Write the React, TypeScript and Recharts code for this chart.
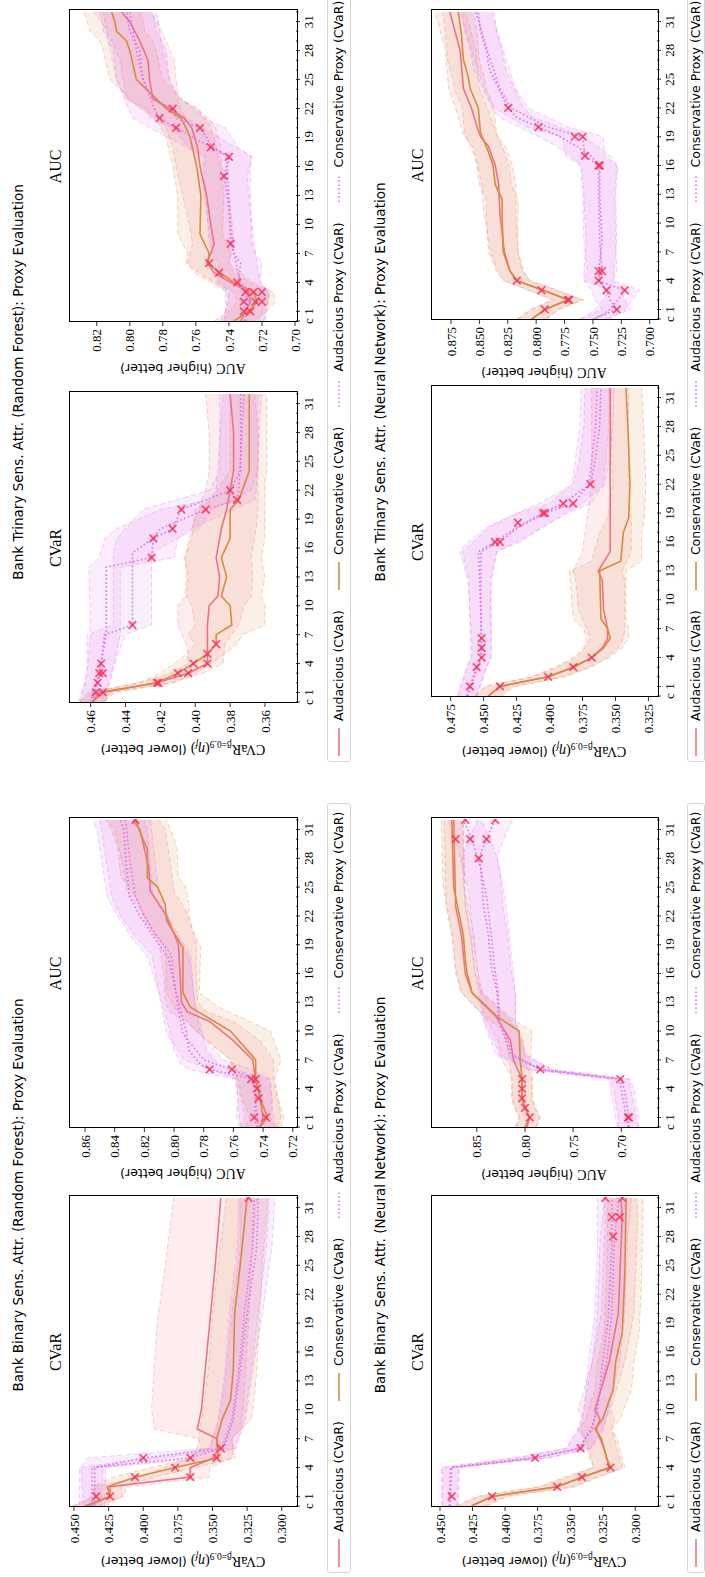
import React from 'react';
import { Area, ComposedChart, Line, Scatter, XAxis, YAxis } from 'recharts';

// [x, mean, lower, upper]
type Pt = [number, number, number, number];
type Mk = [number, number];

const seriesNames = [
  'Audacious (CVaR)',
  'Conservative (CVaR)',
  'Audacious Proxy (CVaR)',
  'Conservative Proxy (CVaR)',
];
const seriesColors = ['#ef7282', '#d88a3f', '#c87cf3', '#ef6fe6'];
const MARK = '#ff2f55';

const xTicks = Array.from({ length: 33 }, (_, i) => i);
const X_DOMAIN: [number, number] = [-0.1, 32.1];

const cvarBinTicks = [0.3, 0.325, 0.35, 0.375, 0.4, 0.425, 0.45];
const aucRfBinTicks = [0.72, 0.74, 0.76, 0.78, 0.8, 0.82, 0.84, 0.86];
const cvarRfTriTicks = [0.36, 0.38, 0.4, 0.42, 0.44, 0.46];
const aucRfTriTicks = [0.7, 0.72, 0.74, 0.76, 0.78, 0.8, 0.82];
const aucNnBinTicks = [0.7, 0.75, 0.8, 0.85];
const cvarNnTriTicks = [0.325, 0.35, 0.375, 0.4, 0.425, 0.45, 0.475];
const aucNnTriTicks = [0.7, 0.725, 0.75, 0.775, 0.8, 0.825, 0.85, 0.875];

// ---- Bank Binary, Random Forest, CVaR
const rfBinCvarAud: Pt[] = [
  [0, 0.44, 0.428, 0.45], [1, 0.424, 0.414, 0.436], [2, 0.424, 0.412, 0.436], [3, 0.366, 0.352, 0.402],
  [4, 0.366, 0.352, 0.385], [5, 0.349, 0.336, 0.366], [6, 0.346, 0.335, 0.358], [7, 0.347, 0.336, 0.36],
  [8, 0.361, 0.33, 0.392], [10, 0.358, 0.328, 0.394], [19, 0.352, 0.324, 0.39], [25, 0.348, 0.322, 0.384],
  [32, 0.344, 0.318, 0.378],
];
const rfBinCvarCons: Pt[] = [
  [0, 0.442, 0.432, 0.452], [1, 0.424, 0.415, 0.434], [2, 0.426, 0.416, 0.436], [3, 0.406, 0.392, 0.422],
  [4, 0.377, 0.362, 0.394], [5, 0.346, 0.334, 0.362], [7, 0.347, 0.336, 0.36], [9, 0.343, 0.322, 0.358],
  [11, 0.337, 0.32, 0.356], [14, 0.335, 0.318, 0.353], [20, 0.334, 0.316, 0.35], [25, 0.33, 0.314, 0.346],
  [32, 0.325, 0.31, 0.34],
];
const rfBinCvarAudProxy: Pt[] = [
  [0, 0.435, 0.428, 0.443], [4, 0.435, 0.427, 0.445], [5, 0.4, 0.386, 0.44], [6, 0.342, 0.333, 0.352],
  [9, 0.335, 0.326, 0.345], [14, 0.33, 0.321, 0.34], [20, 0.325, 0.314, 0.336], [27, 0.318, 0.307, 0.33],
  [32, 0.317, 0.305, 0.33],
];
const rfBinCvarConsProxy: Pt[] = [
  [0, 0.437, 0.43, 0.446], [4, 0.437, 0.429, 0.446], [5, 0.366, 0.352, 0.395], [6, 0.343, 0.334, 0.352],
  [9, 0.336, 0.327, 0.346], [14, 0.331, 0.322, 0.341], [20, 0.327, 0.317, 0.338], [27, 0.321, 0.311, 0.332],
  [32, 0.32, 0.309, 0.331],
];
const rfBinCvarMarks: Mk[] = [
  [1, 0.434], [1, 0.424], [3, 0.406], [3, 0.366], [4, 0.377], [5, 0.4], [5, 0.366], [5, 0.347], [6, 0.344], [32, 0.324],
];

// ---- Bank Binary, Random Forest, AUC
const rfBinAucAud: Pt[] = [
  [0, 0.742, 0.73, 0.755], [1, 0.74, 0.728, 0.752], [3, 0.742, 0.73, 0.755], [5, 0.745, 0.733, 0.758],
  [7, 0.747, 0.733, 0.762], [9, 0.76, 0.742, 0.778], [11, 0.776, 0.76, 0.792], [12, 0.791, 0.778, 0.803],
  [13, 0.795, 0.784, 0.806], [16, 0.796, 0.785, 0.807], [19, 0.797, 0.785, 0.81], [22, 0.805, 0.79, 0.82],
  [24.6, 0.816, 0.8, 0.832], [27, 0.817, 0.802, 0.834], [29, 0.82, 0.804, 0.837], [31, 0.823, 0.806, 0.84],
  [32, 0.828, 0.81, 0.846],
];
const rfBinAucCons: Pt[] = [
  [0, 0.742, 0.728, 0.752], [1, 0.737, 0.726, 0.749], [3, 0.742, 0.73, 0.754], [5, 0.745, 0.732, 0.757],
  [7, 0.745, 0.728, 0.762], [10, 0.762, 0.735, 0.785], [12.5, 0.789, 0.77, 0.8], [14, 0.794, 0.783, 0.805],
  [18.7, 0.794, 0.782, 0.806], [21.5, 0.805, 0.79, 0.82], [23.2, 0.806, 0.79, 0.823], [25, 0.811, 0.792, 0.83],
  [26, 0.818, 0.797, 0.836], [29, 0.818, 0.798, 0.838], [30, 0.821, 0.8, 0.84], [32, 0.826, 0.805, 0.845],
];
const rfBinAucAudProxy: Pt[] = [
  [0, 0.744, 0.732, 0.756], [1, 0.746, 0.735, 0.758], [3, 0.745, 0.734, 0.757], [5, 0.747, 0.736, 0.759],
  [6, 0.776, 0.76, 0.79], [6.5, 0.782, 0.77, 0.795], [8, 0.79, 0.778, 0.8], [10, 0.792, 0.781, 0.803],
  [13, 0.797, 0.786, 0.808], [17.7, 0.804, 0.79, 0.818], [19.4, 0.812, 0.797, 0.827], [22, 0.823, 0.806, 0.838],
  [24, 0.83, 0.814, 0.845], [27, 0.832, 0.816, 0.848], [31, 0.834, 0.818, 0.852], [32, 0.836, 0.82, 0.855],
];
const rfBinAucConsProxy: Pt[] = [
  [0, 0.743, 0.731, 0.755], [1, 0.744, 0.733, 0.756], [5, 0.746, 0.735, 0.758], [6, 0.761, 0.748, 0.776],
  [7, 0.78, 0.767, 0.793], [9.7, 0.794, 0.782, 0.805], [13, 0.798, 0.786, 0.809], [18, 0.802, 0.789, 0.815],
  [20, 0.812, 0.797, 0.827], [22, 0.82, 0.804, 0.836], [24, 0.826, 0.81, 0.842], [28, 0.83, 0.813, 0.846],
  [31, 0.832, 0.815, 0.849], [32, 0.833, 0.816, 0.85],
];
const rfBinAucMarks: Mk[] = [
  [1, 0.746], [1, 0.738], [3, 0.743], [4, 0.744], [5, 0.748], [5, 0.745], [6, 0.776], [6, 0.761], [32, 0.826],
];

// ---- Bank Trinary, Random Forest, CVaR
const rfTriCvarAud: Pt[] = [
  [0, 0.459, 0.452, 0.466], [1, 0.455, 0.448, 0.462], [2, 0.422, 0.414, 0.432], [3, 0.404, 0.396, 0.414],
  [4, 0.393, 0.384, 0.404], [6, 0.393, 0.383, 0.405], [8, 0.393, 0.375, 0.41], [10, 0.392, 0.372, 0.41],
  [11, 0.387, 0.368, 0.406], [13, 0.386, 0.367, 0.405], [15, 0.388, 0.368, 0.406], [18, 0.385, 0.365, 0.402],
  [20, 0.382, 0.364, 0.398], [22, 0.38, 0.364, 0.394], [24, 0.378, 0.364, 0.392], [28, 0.378, 0.364, 0.392],
  [32, 0.38, 0.366, 0.394],
];
const rfTriCvarCons: Pt[] = [
  [0, 0.459, 0.452, 0.466], [1, 0.453, 0.446, 0.46], [2, 0.422, 0.412, 0.432], [3, 0.41, 0.4, 0.42],
  [4, 0.401, 0.391, 0.412], [5, 0.393, 0.383, 0.405], [6, 0.388, 0.376, 0.4], [7, 0.388, 0.373, 0.404],
  [8, 0.379, 0.36, 0.4], [10, 0.38, 0.36, 0.402], [11, 0.385, 0.362, 0.405], [13, 0.382, 0.36, 0.404],
  [15, 0.385, 0.362, 0.406], [17, 0.38, 0.36, 0.402], [20, 0.38, 0.36, 0.4], [21, 0.375, 0.36, 0.39],
  [23, 0.371, 0.36, 0.384], [24, 0.369, 0.359, 0.38], [32, 0.369, 0.359, 0.38],
];
const rfTriCvarAudProxy: Pt[] = [
  [0, 0.459, 0.452, 0.466], [2, 0.456, 0.449, 0.463], [4, 0.454, 0.446, 0.462], [7, 0.452, 0.44, 0.462],
  [8, 0.436, 0.425, 0.447], [15.5, 0.436, 0.425, 0.447], [17, 0.424, 0.41, 0.445], [18, 0.413, 0.398, 0.44],
  [20, 0.408, 0.39, 0.43], [22, 0.38, 0.368, 0.392], [24, 0.374, 0.364, 0.386], [32, 0.374, 0.364, 0.386],
];
const rfTriCvarConsProxy: Pt[] = [
  [0, 0.46, 0.453, 0.467], [3, 0.455, 0.448, 0.462], [7, 0.451, 0.443, 0.46], [14, 0.451, 0.443, 0.461],
  [15, 0.425, 0.412, 0.455], [17, 0.424, 0.41, 0.452], [18, 0.42, 0.402, 0.445], [20, 0.394, 0.378, 0.42],
  [21, 0.376, 0.366, 0.392], [22, 0.375, 0.365, 0.388], [32, 0.372, 0.362, 0.384],
];
const rfTriCvarMarks: Mk[] = [
  [1, 0.457], [1, 0.453], [2, 0.456], [3, 0.455], [3, 0.453], [4, 0.454], [2, 0.422], [2, 0.421], [3, 0.41],
  [3, 0.404], [4, 0.401], [4, 0.393], [5, 0.393], [6, 0.388], [8, 0.436], [15, 0.425], [17, 0.424], [18, 0.413],
  [20, 0.408], [20, 0.394], [21, 0.376], [22, 0.38],
];

// ---- Bank Trinary, Random Forest, AUC
const rfTriAucAud: Pt[] = [
  [0, 0.733, 0.722, 0.745], [1, 0.73, 0.72, 0.742], [2, 0.727, 0.716, 0.74], [3, 0.728, 0.716, 0.741],
  [4, 0.739, 0.727, 0.751], [5, 0.749, 0.737, 0.761], [6, 0.753, 0.74, 0.765], [8, 0.749, 0.737, 0.762],
  [10, 0.751, 0.738, 0.764], [13, 0.7535, 0.74, 0.768], [16, 0.7575, 0.744, 0.772], [18, 0.759, 0.745, 0.774],
  [20, 0.7625, 0.748, 0.778], [21, 0.767, 0.752, 0.783], [22, 0.776, 0.76, 0.792], [23, 0.786, 0.77, 0.802],
  [25, 0.788, 0.772, 0.804], [27, 0.789, 0.773, 0.806], [29, 0.794, 0.778, 0.811], [31, 0.8, 0.783, 0.817],
  [32, 0.805, 0.788, 0.822],
];
const rfTriAucCons: Pt[] = [
  [0, 0.737, 0.725, 0.749], [1, 0.728, 0.717, 0.74], [2, 0.723, 0.712, 0.735], [3, 0.725, 0.713, 0.737],
  [4, 0.737, 0.725, 0.749], [5, 0.7455, 0.733, 0.758], [6, 0.753, 0.74, 0.766], [7, 0.752, 0.739, 0.765],
  [9, 0.7575, 0.744, 0.771], [13, 0.757, 0.743, 0.771], [16, 0.7595, 0.745, 0.774], [19, 0.7635, 0.749, 0.778],
  [20, 0.766, 0.751, 0.781], [21, 0.769, 0.754, 0.785], [22, 0.778, 0.762, 0.794], [23, 0.784, 0.768, 0.8],
  [25, 0.796, 0.78, 0.812], [28, 0.8, 0.784, 0.816], [29, 0.802, 0.786, 0.818], [30, 0.808, 0.791, 0.824],
  [31, 0.809, 0.792, 0.826], [32, 0.811, 0.794, 0.828],
];
const rfTriAucAudProxy: Pt[] = [
  [0, 0.73, 0.718, 0.742], [3, 0.729, 0.716, 0.742], [4, 0.734, 0.721, 0.747], [6, 0.733, 0.72, 0.746],
  [7, 0.737, 0.724, 0.75], [8, 0.739, 0.726, 0.752], [13, 0.74, 0.727, 0.754], [16, 0.741, 0.727, 0.755],
  [17, 0.74, 0.726, 0.754], [18, 0.75, 0.735, 0.765], [19, 0.7535, 0.738, 0.769], [20, 0.7575, 0.742, 0.773],
  [21, 0.772, 0.756, 0.788], [22, 0.774, 0.758, 0.79], [23, 0.786, 0.77, 0.802], [25, 0.792, 0.776, 0.808],
  [28, 0.794, 0.778, 0.81], [30, 0.8, 0.784, 0.816], [32, 0.802, 0.786, 0.818],
];
const rfTriAucConsProxy: Pt[] = [
  [0, 0.731, 0.719, 0.743], [3, 0.727, 0.715, 0.74], [4, 0.733, 0.721, 0.746], [7, 0.737, 0.724, 0.75],
  [13, 0.741, 0.728, 0.755], [15, 0.743, 0.729, 0.757], [17, 0.74, 0.726, 0.755], [18, 0.751, 0.736, 0.766],
  [20, 0.772, 0.756, 0.788], [21, 0.782, 0.766, 0.798], [22, 0.785, 0.769, 0.801], [25, 0.792, 0.776, 0.808],
  [28, 0.796, 0.78, 0.812], [32, 0.8, 0.784, 0.816],
];
const rfTriAucMarks: Mk[] = [
  [1, 0.731], [1, 0.727], [2, 0.731], [2, 0.724], [2, 0.72], [3, 0.73], [3, 0.725], [3, 0.72], [4, 0.735],
  [5, 0.746], [6, 0.752], [8, 0.739], [15, 0.743], [17, 0.74], [18, 0.751], [20, 0.7575], [20, 0.772],
  [21, 0.782], [22, 0.774],
];

// ---- Bank Binary, Neural Network, CVaR
const nnBinCvarAud: Pt[] = [
  [0, 0.426, 0.416, 0.436], [1, 0.41, 0.4, 0.42], [2, 0.36, 0.348, 0.372], [3, 0.341, 0.33, 0.352],
  [4, 0.32, 0.31, 0.332], [6, 0.324, 0.314, 0.336], [8, 0.33, 0.318, 0.342], [9, 0.327, 0.316, 0.34],
  [10, 0.331, 0.319, 0.344], [15, 0.32, 0.308, 0.333], [20, 0.313, 0.301, 0.326], [30, 0.31, 0.298, 0.323],
  [32, 0.311, 0.299, 0.324],
];
const nnBinCvarCons: Pt[] = [
  [0, 0.426, 0.414, 0.438], [1, 0.41, 0.398, 0.422], [2, 0.36, 0.346, 0.374], [3, 0.341, 0.328, 0.355],
  [4, 0.319, 0.308, 0.332], [5, 0.322, 0.31, 0.335], [7, 0.326, 0.314, 0.339], [8, 0.331, 0.318, 0.344],
  [9, 0.325, 0.312, 0.338], [11, 0.32, 0.306, 0.334], [12, 0.317, 0.303, 0.331], [15, 0.315, 0.301, 0.329],
  [18, 0.31, 0.297, 0.324], [24, 0.308, 0.295, 0.322], [32, 0.307, 0.294, 0.321],
];
const nnBinCvarAudProxy: Pt[] = [
  [0, 0.442, 0.436, 0.448], [4, 0.441, 0.435, 0.448], [5, 0.378, 0.368, 0.392], [6, 0.342, 0.334, 0.352],
  [7, 0.339, 0.33, 0.349], [8, 0.334, 0.325, 0.344], [10, 0.329, 0.32, 0.339], [15, 0.325, 0.315, 0.336],
  [20, 0.3205, 0.31, 0.331], [27, 0.318, 0.308, 0.329], [32, 0.318, 0.308, 0.329],
];
const nnBinCvarConsProxy: Pt[] = [
  [0, 0.443, 0.437, 0.449], [4, 0.442, 0.436, 0.449], [5, 0.377, 0.366, 0.392], [6, 0.343, 0.334, 0.353],
  [8, 0.333, 0.324, 0.343], [10, 0.33, 0.321, 0.34], [15, 0.322, 0.312, 0.333], [20, 0.318, 0.308, 0.329],
  [28, 0.316, 0.306, 0.327], [30, 0.314, 0.304, 0.325], [32, 0.313, 0.303, 0.324],
];
const nnBinCvarMarks: Mk[] = [
  [1, 0.441], [1, 0.41], [2, 0.36], [3, 0.341], [4, 0.319], [5, 0.377], [6, 0.342], [28, 0.317], [30, 0.318],
  [30, 0.312], [32, 0.323], [32, 0.31],
];

// ---- Bank Binary, Neural Network, AUC
const nnBinAucAud: Pt[] = [
  [0, 0.798, 0.788, 0.809], [1, 0.795, 0.785, 0.806], [2, 0.8, 0.79, 0.81], [3, 0.803, 0.793, 0.813],
  [5, 0.803, 0.793, 0.813], [7, 0.812, 0.8, 0.824], [9, 0.815, 0.802, 0.828], [11.5, 0.83, 0.818, 0.842],
  [14, 0.855, 0.845, 0.866], [16, 0.862, 0.852, 0.872], [20, 0.866, 0.856, 0.876], [23, 0.872, 0.862, 0.882],
  [32, 0.874, 0.864, 0.884],
];
const nnBinAucCons: Pt[] = [
  [0, 0.8, 0.789, 0.811], [1, 0.795, 0.784, 0.806], [2, 0.8, 0.789, 0.811], [3, 0.803, 0.792, 0.814],
  [5, 0.803, 0.792, 0.814], [7, 0.805, 0.794, 0.816], [10, 0.806, 0.793, 0.82], [11.5, 0.829, 0.816, 0.842],
  [14, 0.855, 0.844, 0.866], [16, 0.86, 0.849, 0.871], [17.5, 0.862, 0.851, 0.873], [20, 0.864, 0.853, 0.875],
  [22.5, 0.869, 0.858, 0.88], [25, 0.874, 0.863, 0.885], [32, 0.876, 0.865, 0.887],
];
const nnBinAucAudProxy: Pt[] = [
  [0, 0.692, 0.682, 0.703], [1, 0.692, 0.682, 0.703], [4, 0.697, 0.687, 0.708], [5, 0.701, 0.691, 0.712],
  [6, 0.784, 0.772, 0.796], [7.5, 0.815, 0.8, 0.83], [11, 0.827, 0.81, 0.843], [14, 0.829, 0.81, 0.848],
  [16.7, 0.835, 0.815, 0.853], [20, 0.838, 0.818, 0.857], [23, 0.843, 0.823, 0.862], [27, 0.846, 0.826, 0.865],
  [30, 0.855, 0.835, 0.872], [32, 0.864, 0.846, 0.88],
];
const nnBinAucConsProxy: Pt[] = [
  [0, 0.693, 0.683, 0.704], [5, 0.702, 0.692, 0.713], [6, 0.784, 0.772, 0.796], [7.5, 0.812, 0.798, 0.826],
  [11, 0.826, 0.81, 0.842], [14, 0.828, 0.81, 0.846], [17, 0.832, 0.813, 0.85], [20, 0.835, 0.816, 0.854],
  [24, 0.84, 0.821, 0.858], [28, 0.848, 0.829, 0.866], [30, 0.84, 0.822, 0.858], [32, 0.831, 0.813, 0.849],
];
const nnBinAucMarks: Mk[] = [
  [1, 0.795], [2, 0.8], [3, 0.803], [4, 0.803], [5, 0.803], [1, 0.692], [1, 0.693], [5, 0.701], [6, 0.784],
  [28, 0.848], [30, 0.872], [30, 0.857], [30, 0.84], [32, 0.862], [32, 0.831],
];

// ---- Bank Trinary, Neural Network, CVaR
const nnTriCvarAud: Pt[] = [
  [0, 0.4465, 0.438, 0.456], [1, 0.4376, 0.428, 0.448], [2, 0.401, 0.39, 0.412], [3, 0.382, 0.37, 0.394],
  [4, 0.368, 0.356, 0.38], [5, 0.36, 0.348, 0.373], [6, 0.356, 0.344, 0.369], [7, 0.356, 0.343, 0.372],
  [9, 0.359, 0.343, 0.378], [12, 0.36, 0.343, 0.38], [13, 0.363, 0.345, 0.382], [15, 0.354, 0.338, 0.375],
  [18, 0.354, 0.338, 0.372], [22, 0.354, 0.34, 0.368], [32, 0.354, 0.34, 0.368],
];
const nnTriCvarCons: Pt[] = [
  [0, 0.4465, 0.436, 0.457], [1, 0.4376, 0.426, 0.449], [2, 0.401, 0.388, 0.414], [3, 0.382, 0.368, 0.396],
  [4, 0.368, 0.355, 0.382], [5, 0.359, 0.345, 0.374], [6, 0.354, 0.34, 0.372], [7, 0.356, 0.34, 0.374],
  [8, 0.361, 0.342, 0.382], [13, 0.362, 0.342, 0.385], [14, 0.346, 0.33, 0.368], [17, 0.344, 0.33, 0.362],
  [18.5, 0.34, 0.328, 0.356], [22, 0.339, 0.327, 0.352], [26, 0.34, 0.328, 0.353], [32, 0.342, 0.33, 0.355],
];
const nnTriCvarAudProxy: Pt[] = [
  [0, 0.4629, 0.456, 0.47], [1, 0.4604, 0.453, 0.468], [3, 0.4553, 0.448, 0.463], [4, 0.4515, 0.444, 0.459],
  [6, 0.4515, 0.444, 0.459], [12, 0.453, 0.445, 0.462], [15, 0.454, 0.44, 0.468], [16, 0.4414, 0.425, 0.462],
  [17.5, 0.425, 0.405, 0.448], [19, 0.405, 0.388, 0.425], [20, 0.39, 0.375, 0.408], [22, 0.369, 0.358, 0.382],
  [24, 0.366, 0.355, 0.378], [28, 0.362, 0.352, 0.374], [32, 0.361, 0.351, 0.373],
];
const nnTriCvarConsProxy: Pt[] = [
  [0, 0.462, 0.455, 0.469], [4, 0.452, 0.445, 0.46], [12, 0.452, 0.444, 0.461], [15, 0.452, 0.44, 0.466],
  [16, 0.4376, 0.422, 0.458], [17.5, 0.424, 0.406, 0.446], [19, 0.4035, 0.386, 0.424], [20, 0.382, 0.368, 0.4],
  [22, 0.37, 0.359, 0.383], [28, 0.365, 0.355, 0.377], [32, 0.364, 0.354, 0.376],
];
const nnTriCvarMarks: Mk[] = [
  [1, 0.4604], [1, 0.4376], [2, 0.401], [3, 0.382], [3, 0.4553], [4, 0.368], [4, 0.4515], [5, 0.4515],
  [6, 0.4515], [16, 0.4414], [16, 0.4376], [18, 0.424], [19, 0.405], [19, 0.4035], [20, 0.3896], [20, 0.3821],
  [22, 0.369],
];

// ---- Bank Trinary, Neural Network, AUC
const nnTriAucAud: Pt[] = [
  [0, 0.804, 0.792, 0.816], [1, 0.792, 0.78, 0.804], [2, 0.772, 0.76, 0.784], [3, 0.794, 0.782, 0.806],
  [4, 0.817, 0.806, 0.828], [5, 0.823, 0.812, 0.834], [7, 0.828, 0.816, 0.84], [11, 0.832, 0.818, 0.846],
  [14, 0.833, 0.818, 0.848], [16, 0.836, 0.821, 0.851], [18, 0.842, 0.827, 0.856], [19, 0.849, 0.834, 0.863],
  [20, 0.852, 0.837, 0.866], [22, 0.857, 0.843, 0.871], [24, 0.864, 0.85, 0.877], [28, 0.867, 0.853, 0.88],
  [32, 0.876, 0.862, 0.889],
];
const nnTriAucCons: Pt[] = [
  [0, 0.804, 0.791, 0.817], [1, 0.7924, 0.78, 0.805], [2, 0.772, 0.758, 0.786], [3, 0.794, 0.781, 0.807],
  [4, 0.817, 0.805, 0.829], [5, 0.823, 0.811, 0.835], [7, 0.829, 0.816, 0.842], [11, 0.83, 0.816, 0.844],
  [12.5, 0.83, 0.816, 0.844], [14, 0.836, 0.822, 0.85], [16, 0.838, 0.824, 0.852], [17.4, 0.842, 0.828, 0.856],
  [19.4, 0.849, 0.835, 0.863], [22, 0.851, 0.837, 0.865], [24, 0.858, 0.844, 0.872], [25.3, 0.86, 0.846, 0.874],
  [27, 0.864, 0.85, 0.878], [29.8, 0.866, 0.852, 0.88], [32, 0.8686, 0.855, 0.882],
];
const nnTriAucAudProxy: Pt[] = [
  [0, 0.75, 0.738, 0.762], [1, 0.729, 0.717, 0.742], [2, 0.735, 0.722, 0.748], [3, 0.738, 0.725, 0.751],
  [4, 0.745, 0.732, 0.758], [5, 0.745, 0.732, 0.758], [8, 0.742, 0.729, 0.756], [13, 0.744, 0.73, 0.758],
  [16, 0.744, 0.728, 0.76], [17, 0.752, 0.735, 0.77], [18, 0.764, 0.746, 0.782], [19, 0.779, 0.76, 0.798],
  [20, 0.798, 0.78, 0.815], [21, 0.817, 0.802, 0.832], [22, 0.825, 0.811, 0.839], [24, 0.833, 0.819, 0.847],
  [26, 0.841, 0.827, 0.855], [28, 0.844, 0.83, 0.858], [30, 0.849, 0.835, 0.863], [32, 0.851, 0.837, 0.865],
];
const nnTriAucConsProxy: Pt[] = [
  [0, 0.748, 0.736, 0.76], [1, 0.735, 0.722, 0.748], [2, 0.728, 0.715, 0.741], [3, 0.722, 0.709, 0.735],
  [4, 0.745, 0.732, 0.758], [5, 0.742, 0.729, 0.755], [8, 0.744, 0.73, 0.758], [13, 0.745, 0.731, 0.759],
  [16, 0.745, 0.729, 0.761], [17, 0.757, 0.74, 0.774], [19, 0.759, 0.741, 0.777], [20, 0.79, 0.772, 0.808],
  [22, 0.822, 0.807, 0.837], [24, 0.832, 0.818, 0.846], [28, 0.843, 0.829, 0.857], [32, 0.853, 0.839, 0.867],
];
const nnTriAucMarks: Mk[] = [
  [1, 0.7924], [2, 0.772], [2, 0.771], [3, 0.7953], [4, 0.817], [1, 0.729], [3, 0.738], [3, 0.722], [4, 0.745],
  [5, 0.745], [5, 0.742], [16, 0.744], [16, 0.745], [17, 0.757], [19, 0.766], [19, 0.759], [20, 0.798], [22, 0.8246],
];

const SERIF = '"Liberation Serif", "DejaVu Serif", serif';
const SANS = '"DejaVu Sans", sans-serif';
const YW = 60;
const XH = 28;

const XTick = (props: any) => {
  const { x, y, payload } = props;
  const v = payload.value as number;
  const label = v === 0 ? 'c' : (v - 1) % 3 === 0 ? String(v) : '';
  return (
    <g>
      <line x1={x} x2={x} y1={y} y2={y + (label ? 4 : 2.4)} stroke="#000" strokeWidth={0.8} />
      {label && (
        <text x={x} y={y + 17} textAnchor="middle" fontFamily={SERIF} fontSize={13} fill="#000">
          {label}
        </text>
      )}
    </g>
  );
};

const XMark = (props: any) => {
  const { cx, cy } = props;
  const r = 3.8;
  return (
    <g stroke={MARK} strokeWidth={1.7} strokeOpacity={0.85}>
      <line x1={cx - r} y1={cy - r} x2={cx + r} y2={cy + r} />
      <line x1={cx - r} y1={cy + r} x2={cx + r} y2={cy - r} />
    </g>
  );
};

type PanelProps = {
  x0: number;
  y0: number;
  fw: number;
  fh: number;
  yDomain: [number, number];
  yTicks: number[];
  digits: number;
  series: Pt[][];
  marks: Mk[];
  title: string;
  cvar: boolean;
  labelX: number;
};

const Panel = ({ x0, y0, fw, fh, yDomain, yTicks, digits, series, marks, title, cvar, labelX }: PanelProps) => (
  <>
    <div
      style={{
        position: 'absolute', left: x0 + fw / 2, top: y0 - 13, transform: 'translate(-50%,-50%)',
        fontFamily: SERIF, fontSize: 16, whiteSpace: 'nowrap',
      }}
    >
      {title}
    </div>
    <div
      style={{
        position: 'absolute', left: labelX, top: y0 + fh / 2, transform: 'translate(-50%,-50%) rotate(-90deg)',
        fontFamily: SANS, fontSize: 12.5, whiteSpace: 'nowrap',
      }}
    >
      {cvar ? (
        <span style={{ fontFamily: SERIF, fontSize: 14 }}>
          CVaR<sub style={{ fontSize: 9.5 }}>β=0.9</sub>(<i>η</i><sub style={{ fontSize: 9.5 }}><i>f</i></sub>)
        </span>
      ) : (
        <span style={{ fontFamily: SERIF, fontSize: 14 }}>AUC</span>
      )}{' '}
      {cvar ? '(lower better)' : '(higher better)'}
    </div>
    <div style={{ position: 'absolute', left: x0 - YW, top: y0 - 2 }}>
      <ComposedChart width={YW + fw + 2} height={fh + 2 + XH} margin={{ top: 2, right: 2, bottom: 0, left: 0 }}>
        <XAxis
          type="number"
          dataKey="x"
          domain={X_DOMAIN}
          ticks={xTicks}
          interval={0}
          allowDataOverflow
          axisLine={false}
          tickLine={false}
          tickSize={0}
          tickMargin={0}
          height={XH}
          tick={<XTick />}
        />
        <YAxis
          type="number"
          domain={yDomain}
          ticks={yTicks}
          interval={0}
          allowDataOverflow
          axisLine={false}
          tickSize={4}
          tickMargin={3}
          width={YW}
          tickLine={{ stroke: '#000', strokeWidth: 0.8 }}
          tickFormatter={(v: number) => v.toFixed(digits)}
          tick={{ fontFamily: SERIF, fontSize: 13, fill: '#000' }}
        />
        {series.map((pts, i) => (
          <Area
            key={`band-${i}`}
            data={pts.map(([x, , lo, hi]) => ({ x, band: [lo, hi] }))}
            dataKey="band"
            type="linear"
            stroke={seriesColors[i]}
            strokeOpacity={0.35}
            strokeWidth={1}
            strokeDasharray="5 3"
            fill={seriesColors[i]}
            fillOpacity={0.13}
            dot={false}
            activeDot={false}
            isAnimationActive={false}
          />
        ))}
        {series.map((pts, i) => (
          <Line
            key={`line-${i}`}
            data={pts.map(([x, y]) => ({ x, y }))}
            dataKey="y"
            type="linear"
            stroke={seriesColors[i]}
            strokeWidth={1.6}
            strokeDasharray={i >= 2 ? '1.6 2.4' : undefined}
            dot={false}
            activeDot={false}
            isAnimationActive={false}
          />
        ))}
        <Scatter data={marks.map(([x, y]) => ({ x, y }))} dataKey="y" shape={<XMark />} isAnimationActive={false} />
      </ComposedChart>
    </div>
    <div
      style={{
        position: 'absolute', left: x0 - 0.5, top: y0 - 0.5, width: fw, height: fh,
        border: '1px solid #000', pointerEvents: 'none',
      }}
    />
  </>
);

const LegendBox = ({ left, top, height }: { left: number; top: number; height: number }) => (
  <div
    style={{
      position: 'absolute', left, top, height, display: 'flex', alignItems: 'center', gap: 20,
      padding: '0 8px 0 5px', border: '1px solid #d6d6d6', borderRadius: 3, background: '#fff',
      fontFamily: SANS, fontSize: 12.5, lineHeight: '14px', whiteSpace: 'nowrap', boxSizing: 'border-box',
    }}
  >
    {seriesNames.map((name, i) => (
      <div key={name} style={{ display: 'flex', alignItems: 'center' }}>
        <svg width={28} height={10} style={{ marginRight: 7 }}>
          <line
            x1={0}
            x2={28}
            y1={5}
            y2={5}
            stroke={seriesColors[i]}
            strokeWidth={1.6}
            strokeDasharray={i >= 2 ? '1.6 2.4' : undefined}
          />
        </svg>
        <span>{name}</span>
      </div>
    ))}
  </div>
);

const BlockTitle = ({ cx, cy, text }: { cx: number; cy: number; text: string }) => (
  <div
    style={{
      position: 'absolute', left: cx, top: cy, transform: 'translate(-50%,-50%)',
      fontFamily: SANS, fontSize: 13.5, whiteSpace: 'nowrap',
    }}
  >
    {text}
  </div>
);

const App: React.FC = () => {
  const fh1 = 227;
  const fh2 = 226;
  return (
    <div style={{ position: 'absolute', left: 0, top: 0, width: 705, height: 1577, overflow: 'hidden', background: '#fff' }}>
      <div
        style={{
          position: 'absolute', left: 0, top: 0, width: 1577, height: 705, background: '#fff',
          transformOrigin: '0 0', transform: 'translateY(1577px) rotate(-90deg)',
        }}
      >
        <BlockTitle cx={382} cy={18} text="Bank Binary Sens. Attr. (Random Forest):  Proxy Evaluation" />
        <BlockTitle cx={1195} cy={18} text="Bank Trinary Sens. Attr. (Random Forest):  Proxy Evaluation" />
        <BlockTitle cx={382} cy={380} text="Bank Binary Sens. Attr. (Neural Network):  Proxy Evaluation" />
        <BlockTitle cx={1195} cy={380} text="Bank Trinary Sens. Attr. (Neural Network):  Proxy Evaluation" />

        <Panel x0={70} y0={69} fw={310} fh={fh1} yDomain={[0.2897, 0.4536]} yTicks={cvarBinTicks} digits={3}
          series={[rfBinCvarAud, rfBinCvarCons, rfBinCvarAudProxy, rfBinCvarConsProxy]} marks={rfBinCvarMarks}
          title="CVaR" cvar labelX={17} />
        <Panel x0={449} y0={69} fw={309} fh={fh1} yDomain={[0.7178, 0.8708]} yTicks={aucRfBinTicks} digits={2}
          series={[rfBinAucAud, rfBinAucCons, rfBinAucAudProxy, rfBinAucConsProxy]} marks={rfBinAucMarks}
          title="AUC" cvar={false} labelX={404} />
        <Panel x0={874} y0={69} fw={310} fh={fh1} yDomain={[0.3422, 0.4724]} yTicks={cvarRfTriTicks} digits={2}
          series={[rfTriCvarAud, rfTriCvarCons, rfTriCvarAudProxy, rfTriCvarConsProxy]} marks={rfTriCvarMarks}
          title="CVaR" cvar labelX={829} />
        <Panel x0={1255} y0={69} fw={311} fh={fh1} yDomain={[0.6994, 0.8368]} yTicks={aucRfTriTicks} digits={2}
          series={[rfTriAucAud, rfTriAucCons, rfTriAucAudProxy, rfTriAucConsProxy]} marks={rfTriAucMarks}
          title="AUC" cvar={false} labelX={1209} />

        <Panel x0={70} y0={431} fw={310} fh={fh2} yDomain={[0.2833, 0.4569]} yTicks={cvarBinTicks} digits={3}
          series={[nnBinCvarAud, nnBinCvarCons, nnBinCvarAudProxy, nnBinCvarConsProxy]} marks={nnBinCvarMarks}
          title="CVaR" cvar labelX={17} />
        <Panel x0={449} y0={431} fw={309} fh={fh2} yDomain={[0.6629, 0.8976]} yTicks={aucNnBinTicks} digits={2}
          series={[nnBinAucAud, nnBinAucCons, nnBinAucAudProxy, nnBinAucConsProxy]} marks={nnBinAucMarks}
          title="AUC" cvar={false} labelX={403} />
        <Panel x0={880} y0={431} fw={310} fh={fh2} yDomain={[0.3185, 0.4899]} yTicks={cvarNnTriTicks} digits={3}
          series={[nnTriCvarAud, nnTriCvarCons, nnTriCvarAudProxy, nnTriCvarConsProxy]} marks={nnTriCvarMarks}
          title="CVaR" cvar labelX={827} />
        <Panel x0={1257} y0={431} fw={309} fh={fh2} yDomain={[0.6936, 0.8926]} yTicks={aucNnTriTicks} digits={3}
          series={[nnTriAucAud, nnTriAucCons, nnTriAucAudProxy, nnTriAucConsProxy]} marks={nnTriAucMarks}
          title="AUC" cvar={false} labelX={1205} />

        <LegendBox left={4} top={327} height={24} />
        <LegendBox left={815} top={327} height={24} />
        <LegendBox left={4} top={687} height={18} />
        <LegendBox left={815} top={687} height={18} />
      </div>
    </div>
  );
};

export default App;
